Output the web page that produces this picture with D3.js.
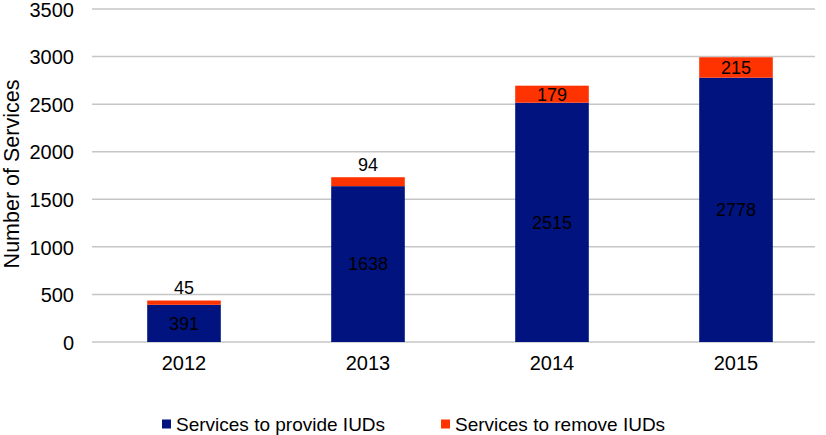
<!DOCTYPE html>
<html><head><meta charset="utf-8">
<script src="https://cdn.jsdelivr.net/npm/d3@7"></script>
<style>body{margin:0;background:#fff}svg{display:block;font-family:"Liberation Sans",Arial,sans-serif}</style>
</head><body><svg id="c" width="826" height="435"></svg>
<script>
const years = ["2012","2013","2014","2015"];
const provide = [391,1638,2515,2778];
const remove = [45,94,179,215];
const seriesNames = ["Services to provide IUDs","Services to remove IUDs"];
const yTicks = [0,500,1000,1500,2000,2500,3000,3500];
const colors = ["#00137F","#FF3300"];

const FONT = "Liberation Sans, Arial, sans-serif";
const svg = d3.select("#c");
const x = d3.scaleBand().domain(years).range([92,828]).paddingInner(0.6).paddingOuter(0.3);
const y = d3.scaleLinear().domain([0,3500]).range([342,9]);

// gridlines
svg.append("g").selectAll("line").data(yTicks).join("line")
  .attr("x1",92).attr("x2",815).attr("y1",d=>y(d)).attr("y2",d=>y(d))
  .attr("stroke","#c6c6c6").attr("stroke-width",1.5);

// y tick labels
const yAxis = d3.axisLeft(y).tickValues(yTicks).tickFormat(d3.format("d")).tickSize(0).tickPadding(0);
const ga = svg.append("g").attr("transform","translate(74,0)").call(yAxis);
ga.select(".domain").remove();
ga.attr("font-size",null).attr("font-family",null);
ga.selectAll("text").attr("font-size",20).attr("fill","#000").attr("font-family",FONT).attr("dy","0.36em");

// x labels
const xAxis = d3.axisBottom(x).tickSize(0).tickPadding(0);
const gx = svg.append("g").attr("transform","translate(0,356)").call(xAxis);
gx.select(".domain").remove();
gx.attr("font-size",null).attr("font-family",null);
gx.selectAll("text").attr("font-size",20).attr("fill","#000").attr("font-family",FONT);

// axis title
svg.append("text").attr("transform","translate(11,174) rotate(-90)")
  .attr("text-anchor","middle").attr("dy","0.35em").attr("font-size",21.5).attr("font-family",FONT)
  .text("Number of Services");

const stackData = years.map((yr,i)=>({year:yr, provide:provide[i], remove:remove[i]}));
const stack = d3.stack().keys(["provide","remove"])(stackData);

stack.forEach((layer,li)=>{
  svg.append("g").selectAll("rect").data(layer).join("rect")
    .attr("x",d=>x(d.data.year)).attr("width",x.bandwidth())
    .attr("y",d=>y(d[1])).attr("height",d=>y(d[0])-y(d[1]))
    .attr("fill",colors[li]);
});

// labels
stack.forEach((layer,li)=>{
  svg.append("g").selectAll("text").data(layer).join("text")
    .attr("x",d=>x(d.data.year)+x.bandwidth()/2)
    .attr("y",d=>{
      const h = y(d[0])-y(d[1]);
      if (h < 16) return y(d[1]) - 13;
      return (y(d[0])+y(d[1]))/2;
    })
    .attr("dy","0.35em").attr("text-anchor","middle").attr("font-size",18).attr("font-family",FONT)
    .attr("fill","#000")
    .text(d=>d[1]-d[0]);
});

// legend
const legX = [162,441];
const lg = svg.append("g");
seriesNames.forEach((n,i)=>{
  lg.append("rect").attr("x",legX[i]).attr("y",419.5).attr("width",9).attr("height",9).attr("fill",colors[i]);
  lg.append("text").attr("x",legX[i]+14).attr("y",424).attr("dy","0.35em").attr("font-size",19).attr("font-family",FONT).text(n);
});
</script></body></html>
